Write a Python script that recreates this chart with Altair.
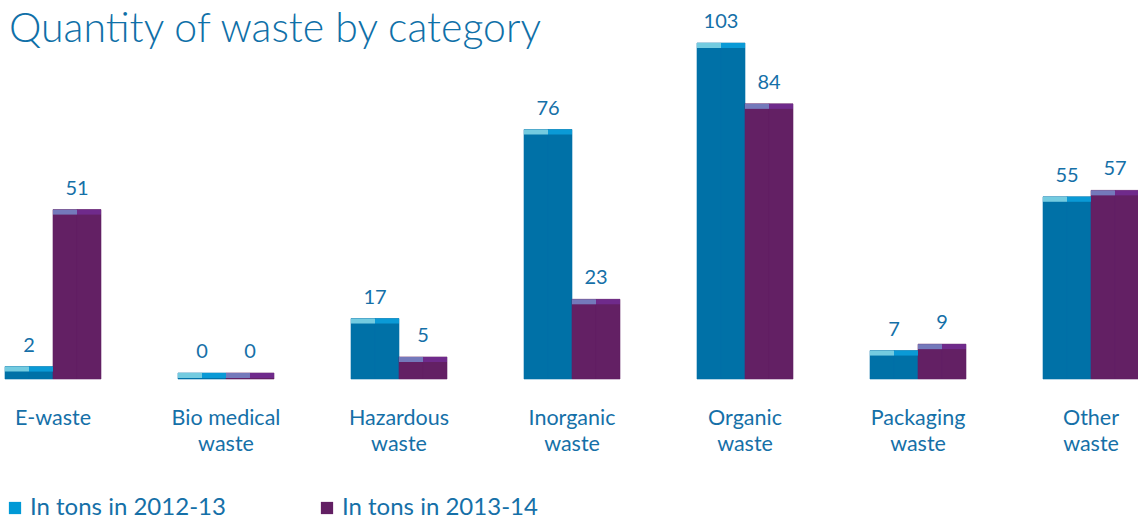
import altair as alt
import pandas as pd

title_text = "Quantity of waste by category"
categories = ["E-waste", "Bio medical waste", "Hazardous waste", "Inorganic waste",
              "Organic waste", "Packaging waste", "Other waste"]
series = ["In tons in 2012-13", "In tons in 2013-14"]
values_2012 = [2, 0, 17, 76, 103, 7, 55]
values_2013 = [51, 0, 5, 23, 84, 9, 57]

rows = []
for i, cat in enumerate(categories):
    for s_idx, vals in enumerate([values_2012, values_2013]):
        for half in ["a", "b"]:
            rows.append({"category": cat, "series": series[s_idx],
                         "sub": f"{s_idx}{half}", "half": half, "value": vals[i]})
df = pd.DataFrame(rows)

TXT = "#1570a8"
FONT = "Lato"
BODY = ["#0071a7", "#632064"]
CAPS = ["#73cbe0", "#0a9ad6", "#7479bb", "#6f2a8b"]
SUBS = ["0a", "0b", "1a", "1b"]
y_scale = alt.Scale(domain=[-1.873, 116.42], nice=False, zero=False)
x_enc = alt.X("category:N", sort=categories,
              scale=alt.Scale(paddingInner=0.4451, paddingOuter=0.0289, range=[0, 1144]),
              axis=alt.Axis(title=None, labelAngle=0, domain=False, ticks=False,
                            labelFontSize=21.5, labelFont=FONT, labelColor=TXT,
                            labelLineHeight=26, labelPadding=28, labelBaseline="top",
                            labelExpr="datum.label == 'E-waste' ? 'E-waste' : [replace(datum.label, ' waste', ''), 'waste']"))
xo_enc = alt.XOffset("sub:N", sort=SUBS, scale=alt.Scale(paddingInner=0, paddingOuter=0))

base = alt.Chart(df)

body = base.mark_bar(strokeWidth=0.6).encode(
    x=x_enc, xOffset=xo_enc,
    y=alt.Y("value:Q", scale=y_scale, axis=None),
    y2=alt.datum(-1.873),
    color=alt.Color("series:N", scale=alt.Scale(domain=series, range=BODY), legend=None),
    stroke=alt.Stroke("series:N", scale=alt.Scale(domain=series, range=BODY), legend=None),
)

cap = base.mark_bar(strokeWidth=0, y2Offset=5).encode(
    x=x_enc, xOffset=xo_enc,
    y=alt.Y("value:Q", scale=y_scale, axis=None),
    y2=alt.Y2("value:Q"),
    color=alt.Color("sub:N", scale=alt.Scale(domain=SUBS, range=CAPS), legend=None),
)

labels = base.transform_filter(alt.datum.half == "a").mark_text(
    dx=12, dy=-15, baseline="alphabetic", align="center", fontSize=20, font=FONT, color=TXT
).encode(
    x=x_enc, xOffset=xo_enc,
    y=alt.Y("value:Q", scale=y_scale, axis=None),
    text=alt.Text("value:Q"),
)

legend_layer = base.mark_square(opacity=0).encode(
    x=x_enc, xOffset=xo_enc,
    y=alt.Y("value:Q", scale=y_scale, axis=None),
    color=alt.Color("series:N", scale=alt.Scale(domain=series, range=["#0099d6", "#621f63"]),
                    legend=alt.Legend(title=None, orient="none", legendX=3, legendY=496,
                                      direction="horizontal", symbolType="square", symbolSize=150,
                                      symbolOpacity=1, symbolStrokeWidth=0, labelFontSize=24,
                                      labelFont=FONT, labelColor=TXT, labelOffset=3,
                                      columnPadding=89, labelLimit=400)),
)

title = alt.Chart(pd.DataFrame({"t": [title_text]})).mark_text(
    align="left", baseline="alphabetic", fontSize=41, font=FONT, fontWeight=300, color="#0f70a8"
).encode(x=alt.value(9), y=alt.value(42), text="t:N")

chart = alt.layer(body, cap, labels, legend_layer, title).resolve_scale(
    color="independent", stroke="independent"
).properties(
    width=1138, height=379,
    autosize=alt.AutoSizeParams(type="none"),
    padding={"left": 0, "top": 0, "right": 0, "bottom": 142},
).configure_view(stroke=None)

chart.save("out.html", embed_options={"renderer": "svg", "actions": False})
